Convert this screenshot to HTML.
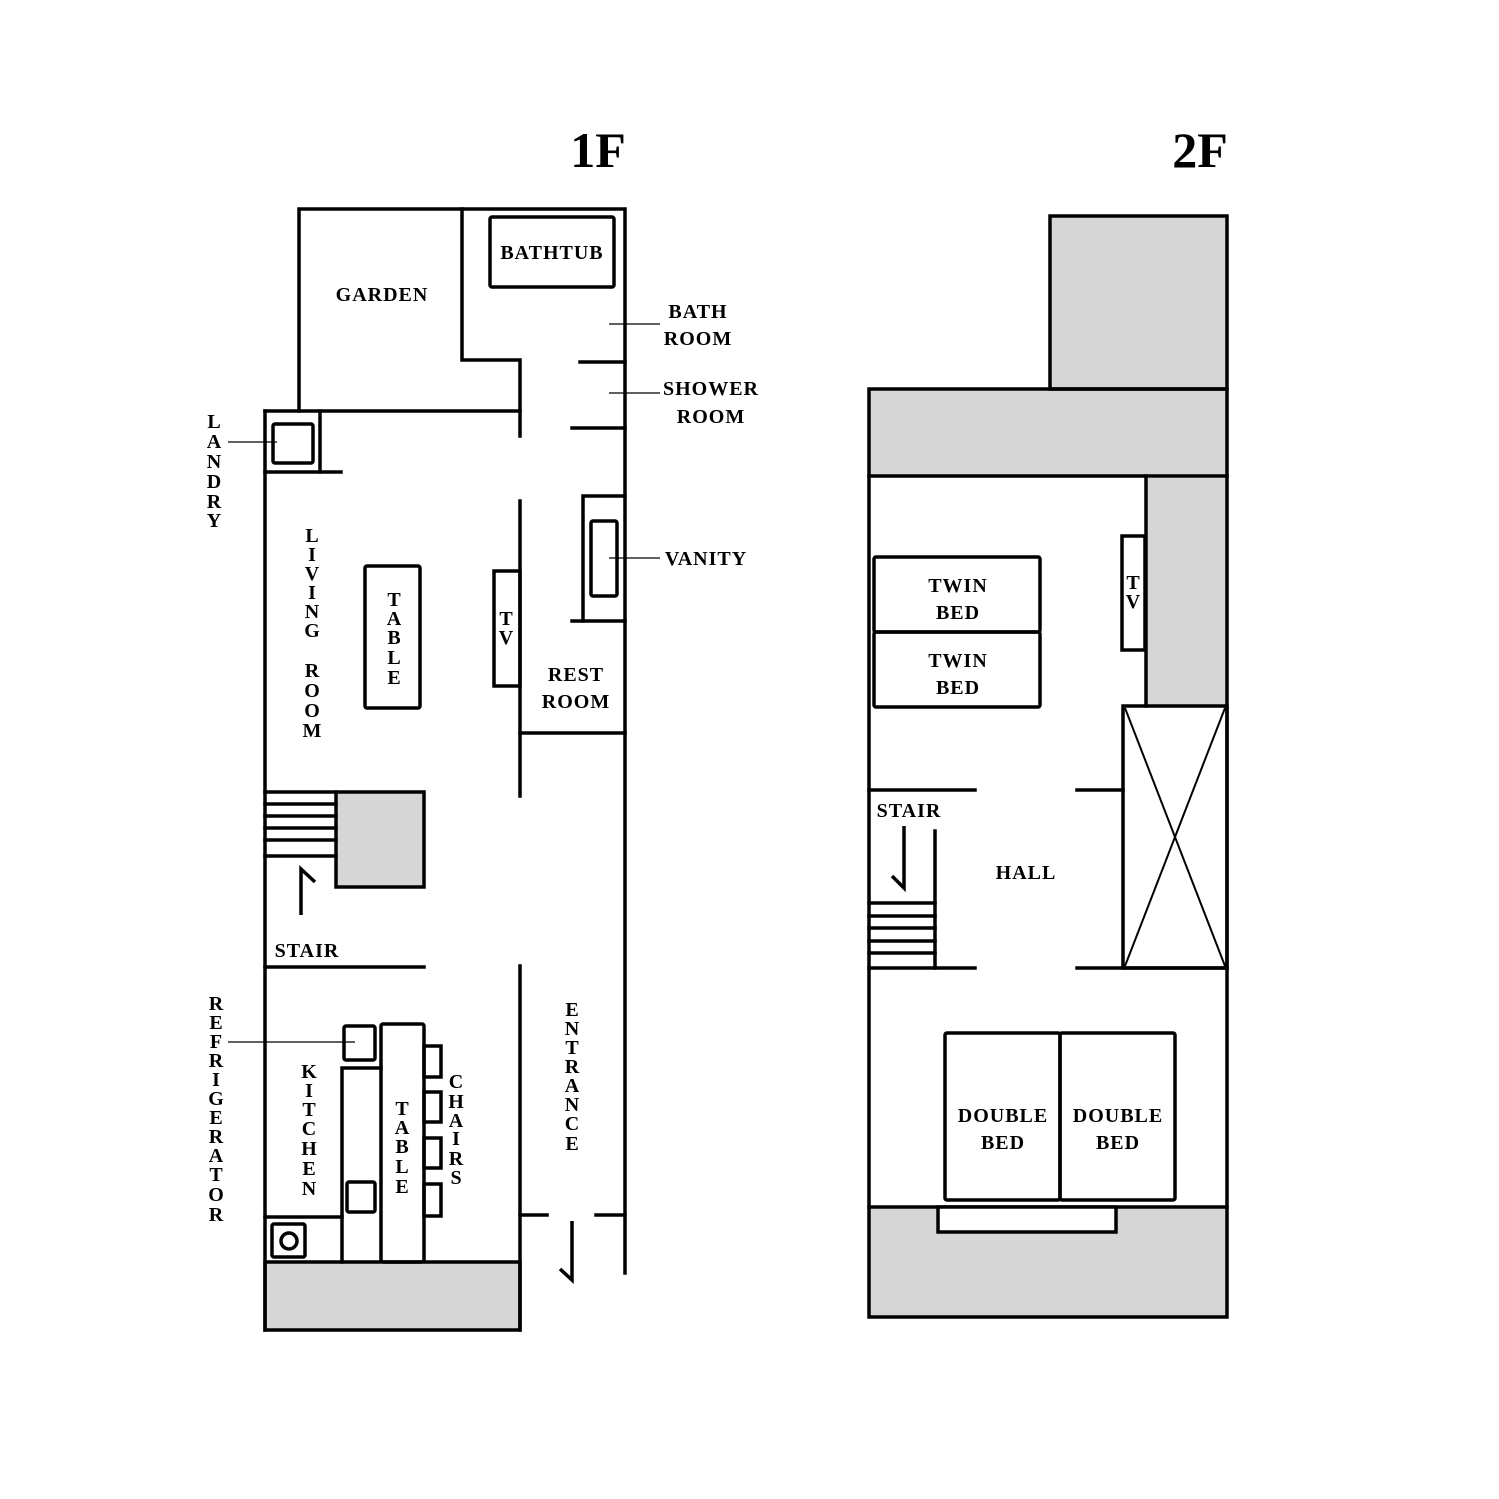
<!DOCTYPE html>
<html><head><meta charset="utf-8"><style>
html,body{margin:0;padding:0;background:#fff}
svg{display:block}
text{font-family:"Liberation Serif",serif;font-weight:bold;fill:#000}
</style></head><body>
<svg width="1499" height="1499" viewBox="0 0 1499 1499" xmlns="http://www.w3.org/2000/svg">
<rect width="1499" height="1499" fill="#fff"/>
<text x="598" y="167" font-size="50" text-anchor="middle">1F</text>
<text x="1200" y="167" font-size="50" text-anchor="middle">2F</text>

<!-- 1F fills -->
<rect x="336" y="792" width="88" height="95" fill="#d6d6d6"/>
<rect x="265" y="1262" width="255" height="68" fill="#d6d6d6"/>

<g stroke="#000" stroke-width="3.5" fill="none" stroke-linecap="square">
<polyline points="299,411 299,209 625,209 625,1273"/>
<polyline points="462,209 462,360 520,360 520,436"/>
<line x1="265" y1="411" x2="520" y2="411"/>
<line x1="265" y1="411" x2="265" y2="1330"/>
<line x1="320" y1="411" x2="320" y2="472"/>
<line x1="265" y1="472" x2="341" y2="472"/>
<rect x="273" y="424" width="40" height="39" rx="2"/>
<rect x="490" y="217" width="124" height="70" rx="2"/>
<line x1="580" y1="362" x2="625" y2="362"/>
<line x1="572" y1="428" x2="625" y2="428"/>
<line x1="520" y1="501" x2="520" y2="796"/>
<polyline points="625,496 583,496 583,621"/>
<line x1="572" y1="621" x2="625" y2="621"/>
<rect x="591" y="521" width="26" height="75" rx="2"/>
<rect x="494" y="571" width="26" height="115"/>
<line x1="520" y1="733" x2="625" y2="733"/>
<rect x="365" y="566" width="55" height="142" rx="2"/>
<rect x="336" y="792" width="88" height="95"/>
<line x1="265" y1="792" x2="336" y2="792"/>
<line x1="265" y1="804" x2="336" y2="804"/>
<line x1="265" y1="816" x2="336" y2="816"/>
<line x1="265" y1="828" x2="336" y2="828"/>
<line x1="265" y1="840" x2="336" y2="840"/>
<line x1="265" y1="856" x2="336" y2="856"/>
<polyline points="301,915 301,869 315,882" stroke-linecap="butt"/>
<line x1="265" y1="967" x2="424" y2="967"/>
<line x1="520" y1="966" x2="520" y2="1330"/>
<line x1="520" y1="1215" x2="547" y2="1215"/>
<line x1="596" y1="1215" x2="625" y2="1215"/>
<polyline points="572,1221 572,1280 560,1269" stroke-linecap="butt"/>
<rect x="344" y="1026" width="31" height="34" rx="2"/>
<polyline points="342,1262 342,1068 381,1068"/>
<rect x="381" y="1024" width="43" height="238" rx="2"/>
<rect x="424" y="1046" width="17" height="31"/>
<rect x="424" y="1092" width="17" height="30"/>
<rect x="424" y="1138" width="17" height="30"/>
<rect x="424" y="1184" width="17" height="32"/>
<rect x="347" y="1182" width="28" height="30" rx="2"/>
<line x1="265" y1="1217" x2="342" y2="1217"/>
<rect x="272" y="1224" width="33" height="33" rx="2"/>
<circle cx="289" cy="1241" r="8"/>
<rect x="265" y="1262" width="255" height="68"/>
</g>
<g stroke="#000" stroke-width="1.3">
<line x1="609" y1="324" x2="660" y2="324"/>
<line x1="609" y1="393" x2="660" y2="393"/>
<line x1="609" y1="558" x2="660" y2="558"/>
<line x1="228" y1="442" x2="277" y2="442"/>
<line x1="228" y1="1042" x2="355" y2="1042"/>
</g>

<!-- 2F -->
<rect x="1050" y="216" width="177" height="173" fill="#d6d6d6"/>
<rect x="869" y="389" width="358" height="87" fill="#d6d6d6"/>
<rect x="1146" y="478" width="81" height="228" fill="#d6d6d6"/>
<rect x="869" y="1207" width="358" height="110" fill="#d6d6d6"/>
<g stroke="#000" stroke-width="3.5" fill="none" stroke-linecap="square">
<rect x="1050" y="216" width="177" height="173"/>
<rect x="869" y="389" width="358" height="928"/>
<line x1="869" y1="476" x2="1227" y2="476"/>
<polyline points="1146,476 1146,706"/>
<rect x="1122" y="536" width="23" height="114" fill="#fff"/>
<rect x="1123" y="706" width="104" height="262"/>
<rect x="874" y="557" width="166" height="75" rx="2"/>
<rect x="874" y="632" width="166" height="75" rx="2"/>
<line x1="869" y1="790" x2="975" y2="790"/>
<line x1="1077" y1="790" x2="1123" y2="790"/>
<line x1="869" y1="968" x2="975" y2="968"/>
<line x1="1077" y1="968" x2="1227" y2="968"/>
<line x1="935" y1="831" x2="935" y2="968"/>
<line x1="869" y1="903" x2="935" y2="903"/>
<line x1="869" y1="916" x2="935" y2="916"/>
<line x1="869" y1="928" x2="935" y2="928"/>
<line x1="869" y1="941" x2="935" y2="941"/>
<line x1="869" y1="953" x2="935" y2="953"/>
<polyline points="904,826 904,888 892,876" stroke-linecap="butt"/>
<rect x="945" y="1033" width="115" height="167" rx="2"/>
<rect x="1060" y="1033" width="115" height="167" rx="2"/>
<line x1="869" y1="1207" x2="1227" y2="1207"/>
<rect x="938" y="1207" width="178" height="25" fill="#fff"/>
</g>
<g stroke="#000" stroke-width="2">
<line x1="1125" y1="708" x2="1225" y2="966"/>
<line x1="1225" y1="708" x2="1125" y2="966"/>
</g>

<g font-size="20" text-anchor="middle" letter-spacing="1">
<text x="382" y="301">GARDEN</text>
<text x="552" y="259">BATHTUB</text>
<text x="698" y="318">BATH</text><text x="698" y="345">ROOM</text>
<text x="711" y="395">SHOWER</text><text x="711" y="423">ROOM</text>
<text x="706" y="565">VANITY</text>
<text x="576" y="681">REST</text><text x="576" y="708">ROOM</text>
<text x="307" y="957">STAIR</text>
<text x="909" y="817">STAIR</text>
<text x="1026" y="879">HALL</text>
<text x="958" y="592">TWIN</text><text x="958" y="619">BED</text>
<text x="958" y="667">TWIN</text><text x="958" y="694">BED</text>
<text x="1003" y="1122">DOUBLE</text><text x="1003" y="1149">BED</text>
<text x="1118" y="1122">DOUBLE</text><text x="1118" y="1149">BED</text>
</g>
<g font-size="20" text-anchor="middle">
<text x="214" y="428">L</text><text x="214" y="448">A</text><text x="214" y="468">N</text><text x="214" y="488">D</text><text x="214" y="508">R</text><text x="214" y="527">Y</text>
<text x="312" y="542">L</text><text x="312" y="561">I</text><text x="312" y="580">V</text><text x="312" y="599">I</text><text x="312" y="618">N</text><text x="312" y="637">G</text>
<text x="312" y="677">R</text><text x="312" y="697">O</text><text x="312" y="717">O</text><text x="312" y="737">M</text>
<text x="394" y="606">T</text><text x="394" y="625">A</text><text x="394" y="644">B</text><text x="394" y="664">L</text><text x="394" y="684">E</text>
<text x="506" y="625">T</text><text x="506" y="644">V</text>
<text x="1133" y="589">T</text><text x="1133" y="608">V</text>
<text x="572" y="1016">E</text><text x="572" y="1035">N</text><text x="572" y="1054">T</text><text x="572" y="1073">R</text><text x="572" y="1092">A</text><text x="572" y="1111">N</text><text x="572" y="1130">C</text><text x="572" y="1150">E</text>
<text x="309" y="1078">K</text><text x="309" y="1097">I</text><text x="309" y="1116">T</text><text x="309" y="1135">C</text><text x="309" y="1155">H</text><text x="309" y="1175">E</text><text x="309" y="1195">N</text>
<text x="402" y="1115">T</text><text x="402" y="1134">A</text><text x="402" y="1153">B</text><text x="402" y="1173">L</text><text x="402" y="1193">E</text>
<text x="456" y="1088">C</text><text x="456" y="1108">H</text><text x="456" y="1127">A</text><text x="456" y="1145">I</text><text x="456" y="1165">R</text><text x="456" y="1184">S</text>
<text x="216" y="1010">R</text><text x="216" y="1029">E</text><text x="216" y="1048">F</text><text x="216" y="1067">R</text><text x="216" y="1086">I</text><text x="216" y="1105">G</text><text x="216" y="1124">E</text><text x="216" y="1143">R</text><text x="216" y="1162">A</text><text x="216" y="1181">T</text><text x="216" y="1201">O</text><text x="216" y="1221">R</text>
</g>
</svg>
</body></html>
